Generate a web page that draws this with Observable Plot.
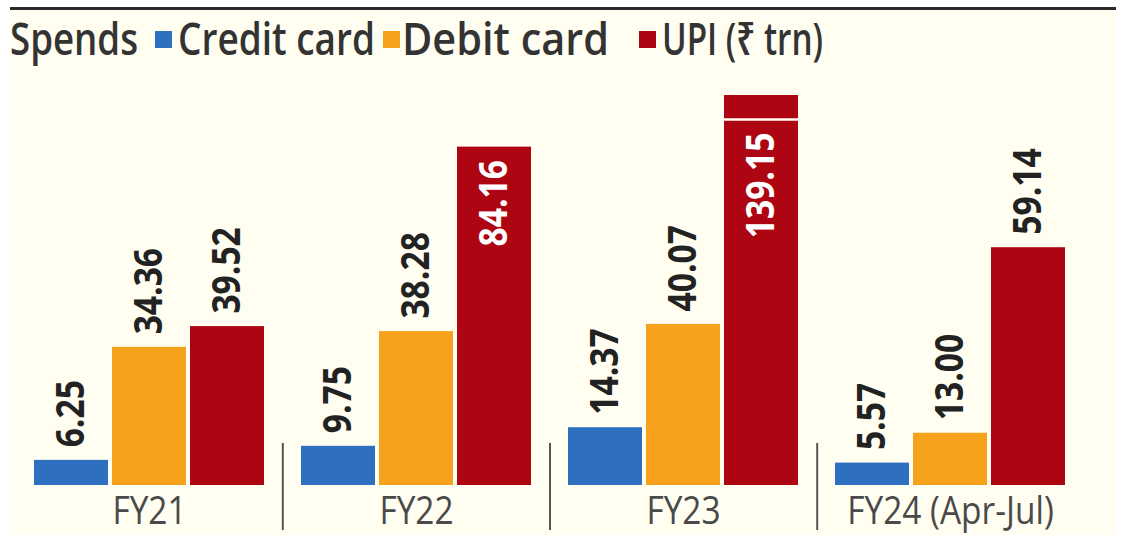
<!DOCTYPE html>
<html>
<head>
<meta charset="utf-8">
<script src="https://cdn.jsdelivr.net/npm/d3@7"></script>
<script src="https://cdn.jsdelivr.net/npm/@observablehq/plot@0.6"></script>
<style>
  html, body { margin: 0; padding: 0; background: #ffffff; }
  #frame {
    position: absolute; left: 10px; top: 7px; width: 1106px; height: 528px;
    background: #fffef0; border-top: 3px solid #2b2b2b;
  }
  #legend { position: absolute; left: 0; top: 0; width: 1122px; height: 70px;
    font-family: 'Open Sans', 'Noto Sans', sans-serif;
    font-size: 46px; font-weight: 600; color: #333; }
  #legend .t { position: absolute; top: 14px; line-height: 46px; white-space: nowrap; transform-origin: 0 50%; }
  #legend .sw { position: absolute; top: 31px; width: 17px; height: 17px; }
  #chart { position: absolute; left: 0; top: 70px; }
</style>
</head>
<body>
<div id="frame"></div>
<div id="legend"></div>
<div id="chart"></div>
<script>
// ---- data ----
const years = ["FY21", "FY22", "FY23", "FY24 (Apr-Jul)"];
const types = ["Credit card", "Debit card", "UPI"];
const credit = [6.25, 9.75, 14.37, 5.57];
const debit = [34.36, 38.28, 40.07, 13.00];
const upi = [39.52, 84.16, 139.15, 59.14];
const colors = ["#2e6fbf", "#f6a21c", "#ad0511"];
const legendTitle = "Spends";
const legendLabels = ["Credit card", "Debit card", "UPI (₹ trn)"];

// display cap of the y axis (bars above it are drawn broken)
const yCap = 97;
const breakAt = 91;
const insideThreshold = 75;

const series = [credit, debit, upi];
const rows = [];
years.forEach((year, i) => {
  types.forEach((type, j) => rows.push({year, type, value: series[j][i]}));
});

// ---- legend (left edge and width of each piece) ----
const legend = document.getElementById("legend");
const legendItems = [
  {kind: "t", text: legendTitle, left: 10, w: 128},
  {kind: "sw", color: colors[0], left: 155},
  {kind: "t", text: legendLabels[0], left: 178, w: 197},
  {kind: "sw", color: colors[1], left: 383},
  {kind: "t", text: legendLabels[1], left: 402, w: 207},
  {kind: "sw", color: colors[2], left: 639},
  {kind: "t", text: legendLabels[2], left: 662, w: 161}
];
for (const it of legendItems) {
  const el = document.createElement("div");
  el.className = it.kind;
  el.style.left = it.left + "px";
  if (it.kind === "t") el.textContent = it.text; else el.style.background = it.color;
  legend.appendChild(el);
  if (it.kind === "t") {
    const w = el.getBoundingClientRect().width;
    el.style.transform = `scaleX(${it.w / w})`;
  }
}

// ---- chart ----
const fontFam = "'Open Sans', 'Noto Sans', sans-serif";
const fmt = d => d.value.toFixed(2);
const chart = Plot.plot({
  width: 1122,
  height: 465,
  marginLeft: 33,
  marginRight: 55,
  marginTop: 25,
  marginBottom: 50,
  style: {background: "transparent", fontFamily: fontFam, fontSize: "38px", color: "#4a4a4a", overflow: "visible"},
  facet: {data: rows, x: "year"},
  fx: {domain: years, paddingInner: 0.13, paddingOuter: 0, label: null, axis: "bottom", tickSize: 0, tickPadding: 12},
  x: {domain: types, paddingInner: 0.05, paddingOuter: 0, axis: null},
  y: {domain: [0, yCap], clamp: true, axis: null},
  color: {domain: types, range: colors},
  marks: [
    Plot.barY(rows, {x: "type", y: "value", fill: "type"}),
    Plot.tickY(rows, {x: "type", y: d => d.value > yCap ? breakAt : NaN, stroke: "#fffef0", strokeWidth: 2.5}),
    Plot.text(rows, {x: "type", y: d => d.value > insideThreshold ? NaN : d.value, text: fmt,
      rotate: -90, textAnchor: "start", dy: -13, fontSize: 40, fontWeight: "bold", fill: "#222"}),
    Plot.text(rows, {x: "type", y: d => d.value > insideThreshold ? Math.min(d.value, breakAt) : NaN, text: fmt,
      rotate: -90, textAnchor: "end", dy: 13, fontSize: 40, fontWeight: "bold", fill: "#ffffff"})
  ]
});
document.getElementById("chart").appendChild(chart);
const svgEl = chart.tagName.toLowerCase() === "svg" ? chart : chart.querySelector("svg");

// condense all chart texts (narrow typeface look)
svgEl.querySelectorAll("text").forEach(t => {
  if (t.querySelector("tspan")) return;
  const len = t.getComputedTextLength();
  const bold = (t.closest("[font-weight]") || t).getAttribute("font-weight") === "bold";
  t.setAttribute("textLength", len * (bold ? 0.84 : 0.88));
  t.setAttribute("lengthAdjust", "spacingAndGlyphs");
});

// separators between the year groups, placed with the fx scale
const fxs = chart.scale("fx");
const band = d3.scaleBand().domain(fxs.domain).range(fxs.range)
  .paddingInner(fxs.paddingInner).paddingOuter(fxs.paddingOuter).align(fxs.align ?? 0.5);
const ys = chart.scale("y");
const yScale = d3.scaleLinear().domain(ys.domain).range(ys.range);
const base = yScale(0);
const svg = d3.select(svgEl);
const gap = band.step() - band.bandwidth();
years.slice(1).forEach(y => {
  const x = band(y) - gap / 2;
  svg.append("line").attr("x1", x).attr("x2", x).attr("y1", base - 42).attr("y2", base + 45)
    .attr("stroke", "#555").attr("stroke-width", 2);
});
</script>
</body>
</html>
